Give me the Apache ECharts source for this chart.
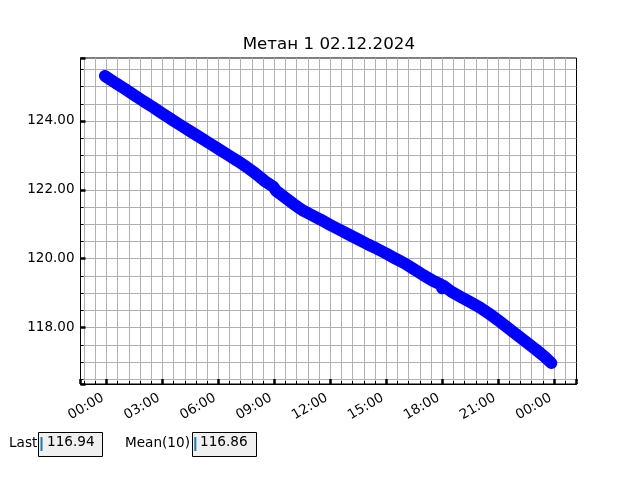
<!DOCTYPE html>
<html><head><meta charset="utf-8">
<script src="https://cdn.jsdelivr.net/npm/echarts@6/dist/echarts.min.js"></script>
<style>html,body{margin:0;padding:0;background:#fff}#c{width:640px;height:480px}</style>
</head><body><div id="c"></div>
<script>
const chartTitle = 'Метан 1 02.12.2024';
// hours relative to 00:00 of 02.12.2024
const timeH = [-0.08, 0.5, 1.0, 1.5, 2.0, 2.5, 3.0, 3.5, 4.0, 4.5, 5.0, 5.5, 6.0, 6.5, 7.0, 7.5, 8.0, 8.5, 8.95, 9.1, 9.5, 10.0, 10.5, 11.0, 11.5, 12.0, 12.5, 13.0, 13.5, 14.0, 14.5, 15.0, 15.5, 16.0, 16.5, 17.0, 17.5, 17.93, 18.0, 18.07, 18.5, 19.0, 19.5, 20.0, 20.5, 21.0, 21.5, 22.0, 22.5, 23.0, 23.5, 23.85];
const methane = [125.31, 125.10, 124.93, 124.75, 124.57, 124.40, 124.22, 124.04, 123.87, 123.70, 123.53, 123.36, 123.19, 123.02, 122.85, 122.67, 122.47, 122.25, 122.09, 121.97, 121.81, 121.60, 121.41, 121.27, 121.13, 120.98, 120.84, 120.70, 120.56, 120.42, 120.29, 120.15, 120.00, 119.86, 119.69, 119.52, 119.36, 119.25, 119.14, 119.21, 119.04, 118.89, 118.74, 118.59, 118.41, 118.21, 118.00, 117.79, 117.58, 117.37, 117.15, 116.97];
const xTickValues = [0, 3, 6, 9, 12, 15, 18, 21, 24];
const xTickLabels = ['00:00', '03:00', '06:00', '09:00', '12:00', '15:00', '18:00', '21:00', '00:00'];
const yTickValues = [118, 120, 122, 124];
const yTickLabels = ['118.00', '120.00', '122.00', '124.00'];
const lastLabel = 'Last';
const lastValue = '116.94';
const meanLabel = 'Mean(10)';
const meanValue = '116.86';

const FONT = 'DejaVu Sans';
const chart = echarts.init(document.getElementById('c'), null, {renderer: 'canvas'});

function lookup(vals, labels, v) {
  for (let i = 0; i < vals.length; i++) if (Math.abs(vals[i] - v) < 1e-6) return labels[i];
  return '';
}

const seriesData = timeH.map((t, i) => [t, methane[i]]);

const option = {
  animation: false,
  backgroundColor: '#ffffff',
  title: {
    text: chartTitle,
    left: 242.7, top: 36, padding: 0,
    textStyle: {fontFamily: FONT, fontSize: 16.7, fontWeight: 'normal', color: '#000'}
  },
  grid: {left: 80.5, top: 58, width: 496, height: 326, show: true, borderColor: '#000', borderWidth: 1, backgroundColor: 'transparent'},
  xAxis: {
    type: 'value', min: -1.39, max: 25.2, splitNumber: 9,
    axisLine: {show: true, onZero: false, lineStyle: {color: '#000', width: 1}},
    axisTick: {show: true, inside: true, length: 5, lineStyle: {color: '#000', width: 2.5}},
    minorTick: {show: true, splitNumber: 5, length: 3, lineStyle: {color: '#000', width: 1}},
    splitLine: {show: true, showMinLine: false, showMaxLine: false, lineStyle: {color: '#b0b0b0', width: 1}},
    minorSplitLine: {show: true, lineStyle: {color: '#b0b0b0', width: 1}},
    axisLabel: {
      show: true, rotate: 30, margin: 11, padding: [0, 4, 0, 0], showMinLabel: false, showMaxLabel: false,
      fontFamily: FONT, fontSize: 13.5, color: '#000',
      formatter: v => lookup(xTickValues, xTickLabels, v)
    }
  },
  yAxis: {
    type: 'value', min: 116.36, max: 125.83, splitNumber: 5,
    axisLine: {show: true, onZero: false, lineStyle: {color: '#000', width: 1}},
    axisTick: {show: true, inside: true, length: 5, lineStyle: {color: '#000', width: 2.5}},
    minorTick: {show: true, splitNumber: 4, length: 3, lineStyle: {color: '#000', width: 1}},
    splitLine: {show: true, showMinLine: false, showMaxLine: false, lineStyle: {color: '#b0b0b0', width: 1}},
    minorSplitLine: {show: true, lineStyle: {color: '#b0b0b0', width: 1}},
    axisLabel: {
      show: true, margin: 6, padding: [4, 0, 0, 0], showMinLabel: false, showMaxLabel: false,
      fontFamily: FONT, fontSize: 13.5, color: '#000',
      formatter: v => lookup(yTickValues, yTickLabels, v)
    }
  },
  series: [{
    type: 'line', data: seriesData, showSymbol: false, smooth: false, clip: true,
    lineStyle: {color: '#0000ff', width: 12, cap: 'round', join: 'round'},
    itemStyle: {color: '#0000ff'}
  }],
  graphic: [
    {type: 'text', left: 9, top: 436, style: {text: lastLabel, font: '13.6px "DejaVu Sans"', fill: '#000'}},
    {type: 'rect', shape: {x: 38.5, y: 432.5, width: 64, height: 24}, style: {fill: '#f0f0f0', stroke: '#000', lineWidth: 1}},
    {type: 'rect', shape: {x: 40.5, y: 437, width: 2, height: 14}, style: {fill: '#1f77b4'}},
    {type: 'text', left: 47, top: 435, style: {text: lastValue, font: '13.6px "DejaVu Sans"', fill: '#000'}},
    {type: 'text', left: 125, top: 436, style: {text: meanLabel, font: '13.6px "DejaVu Sans"', fill: '#000'}},
    {type: 'rect', shape: {x: 192.5, y: 432.5, width: 64, height: 24}, style: {fill: '#f0f0f0', stroke: '#000', lineWidth: 1}},
    {type: 'rect', shape: {x: 194.3, y: 437, width: 2, height: 14}, style: {fill: '#1f77b4'}},
    {type: 'text', left: 200, top: 435, style: {text: meanValue, font: '13.6px "DejaVu Sans"', fill: '#000'}}
  ]
};
chart.setOption(option);
</script>
</body></html>
